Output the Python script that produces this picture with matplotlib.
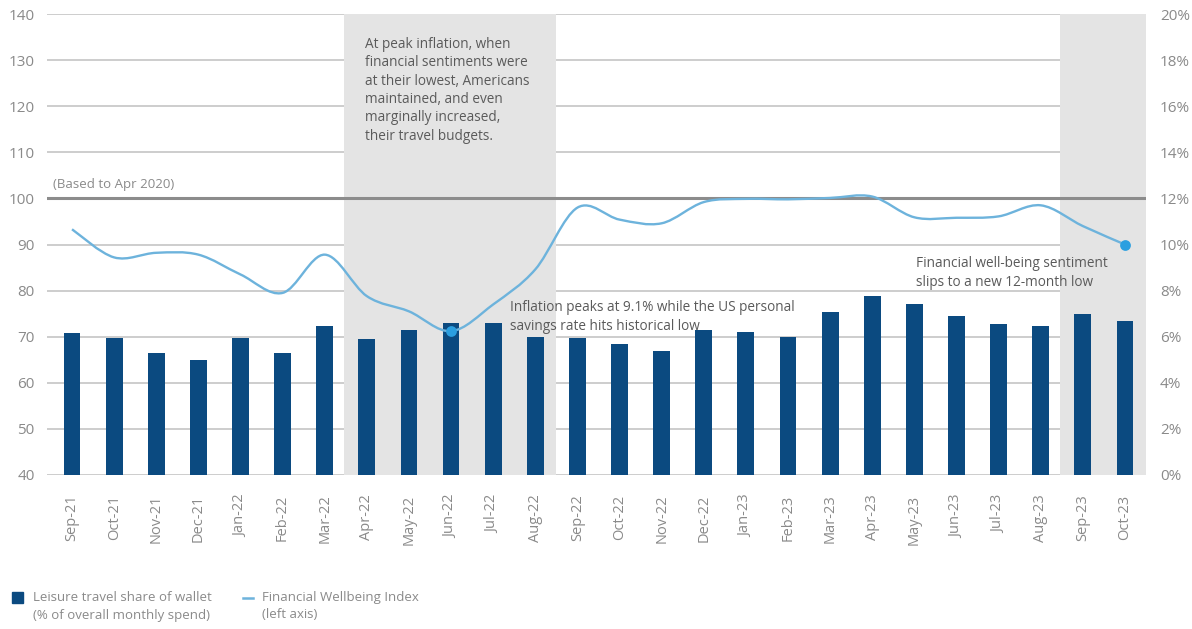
import numpy as np
import matplotlib.pyplot as plt
from matplotlib.path import Path
from matplotlib.patches import PathPatch, Rectangle
from matplotlib.lines import Line2D

plt.rcParams['font.family'] = ['Open Sans', 'DejaVu Sans']

months = ["Sep-21", "Oct-21", "Nov-21", "Dec-21", "Jan-22", "Feb-22", "Mar-22",
          "Apr-22", "May-22", "Jun-22", "Jul-22", "Aug-22", "Sep-22", "Oct-22",
          "Nov-22", "Dec-22", "Jan-23", "Feb-23", "Mar-23", "Apr-23", "May-23",
          "Jun-23", "Jul-23", "Aug-23", "Sep-23", "Oct-23"]

# leisure travel share of wallet, % of overall monthly spend (right axis)
travel_share = [6.15, 5.93, 5.31, 4.99, 5.93, 5.31, 6.46, 5.90, 6.29, 6.58,
                6.61, 5.97, 5.93, 5.67, 5.39, 6.29, 6.22, 5.97, 7.06, 7.77,
                7.42, 6.91, 6.54, 6.46, 6.98, 6.69]

# Financial Wellbeing Index, based to Apr 2020 = 100 (left axis)
wellbeing = [93.3, 87.2, 88.2, 87.8, 83.5, 79.5, 87.8, 78.8, 75.5, 71.2,
             77.0, 84.6, 98.0, 95.4, 94.6, 99.2, 99.9, 99.8, 100.1, 100.4,
             95.9, 95.8, 96.1, 98.5, 94.0, 90.0]

highlight = ["Jun-22", "Oct-23"]
shaded = [("Apr-22", "Aug-22"), ("Sep-23", "Oct-23")]

left_ticks = list(range(40, 141, 10))
right_ticks = list(range(0, 21, 2))

BAR = "#0b4a80"
LINE = "#6db3dc"
DOT = "#2b9fe0"
GREY = "#8a8a8a"
TEXT = "#5a5a5a"

fig = plt.figure(figsize=(11.92, 6.29), dpi=100)
ax = fig.add_axes([47 / 1192, 1 - 475 / 629, 1099 / 1192, 461 / 629])
ax2 = ax.twinx()
ax.set_zorder(ax2.get_zorder() + 1)
ax.patch.set_visible(False)

x = np.arange(len(months))

# background: gridlines, shaded periods, bars on the percentage axis
for t in right_ticks:
    ax2.axhline(t, color="#c9c9c9", lw=1.3, zorder=0)
for a, b in shaded:
    ax2.axvspan(months.index(a) - 0.55, months.index(b) + 0.5,
                color="#e4e4e4", lw=0, zorder=1)
ax2.bar(x, travel_share, width=0.4, color=BAR, zorder=3)
ax2.set_ylim(0, 20)
ax2.set_yticks(right_ticks)
ax2.set_yticklabels([f"{t}%" for t in right_ticks])

# index line, smoothed with cubic bezier segments through the monthly points
pts = np.column_stack([x, wellbeing]).astype(float)
ext = np.vstack([pts[0], pts, pts[-1]])
verts = [tuple(pts[0])]
codes = [Path.MOVETO]
for i in range(len(pts) - 1):
    p0, p1, p2, p3 = ext[i], ext[i + 1], ext[i + 2], ext[i + 3]
    verts += [tuple(p1 + (p2 - p0) / 6), tuple(p2 - (p3 - p1) / 6), tuple(p2)]
    codes += [Path.CURVE4] * 3
ax.add_patch(PathPatch(Path(verts, codes), fill=False, edgecolor=LINE, lw=1.7, zorder=4))

hx = [months.index(m) for m in highlight]
ax.scatter(hx, [wellbeing[i] for i in hx], s=60, color=DOT, zorder=5, lw=0)

ax.axhline(100, color="#8c8c8c", lw=2.2, zorder=3)
ax.set_ylim(40, 140)
ax.set_yticks(left_ticks)
ax.set_xlim(-0.594, 25.5)
ax.set_xticks(x)
ax.set_xticklabels(months, rotation=90)

for a in (ax, ax2):
    for s in a.spines.values():
        s.set_visible(False)
ax.tick_params(axis="y", length=0, pad=9, labelsize=11, labelcolor=GREY)
ax.tick_params(axis="x", length=0, pad=14, labelsize=10.5, labelcolor=GREY)
ax2.tick_params(axis="y", length=0, pad=10, labelsize=11, labelcolor=GREY)

# annotations
ax.text(-0.45, 101.5, "(Based to Apr 2020)", fontsize=9.5, color=GREY, va="bottom")
ax.text(6.95, 135.0,
        "At peak inflation, when\nfinancial sentiments were\nat their lowest, Americans\n"
        "maintained, and even\nmarginally increased,\ntheir travel budgets.",
        fontsize=9.8, color=TEXT, va="top", linespacing=1.3)
ax.text(10.4, 78.0,
        "Inflation peaks at 9.1% while the US personal\nsavings rate hits historical low",
        fontsize=9.8, color=TEXT, va="top", linespacing=1.35)
ax.text(20.05, 87.5,
        "Financial well-being sentiment\nslips to a new 12-month low",
        fontsize=9.8, color=TEXT, va="top", linespacing=1.35)

# legend below the plot
fig.add_artist(Rectangle((12 / 1192, 1 - 603 / 629), 11 / 1192, 11 / 629,
                         transform=fig.transFigure, color=BAR))
fig.text(33 / 1192, 1 - 591 / 629,
         "Leisure travel share of wallet\n(% of overall monthly spend)",
         fontsize=9.5, color=GREY, va="top", linespacing=1.45)
fig.add_artist(Line2D([243 / 1192, 253 / 1192], [1 - 598 / 629, 1 - 598 / 629],
                      transform=fig.transFigure, color=LINE, lw=1.8))
fig.text(262 / 1192, 1 - 591 / 629,
         "Financial Wellbeing Index\n(left axis)",
         fontsize=9.5, color=GREY, va="top", linespacing=1.45)

fig.savefig("out.png", dpi=100)
